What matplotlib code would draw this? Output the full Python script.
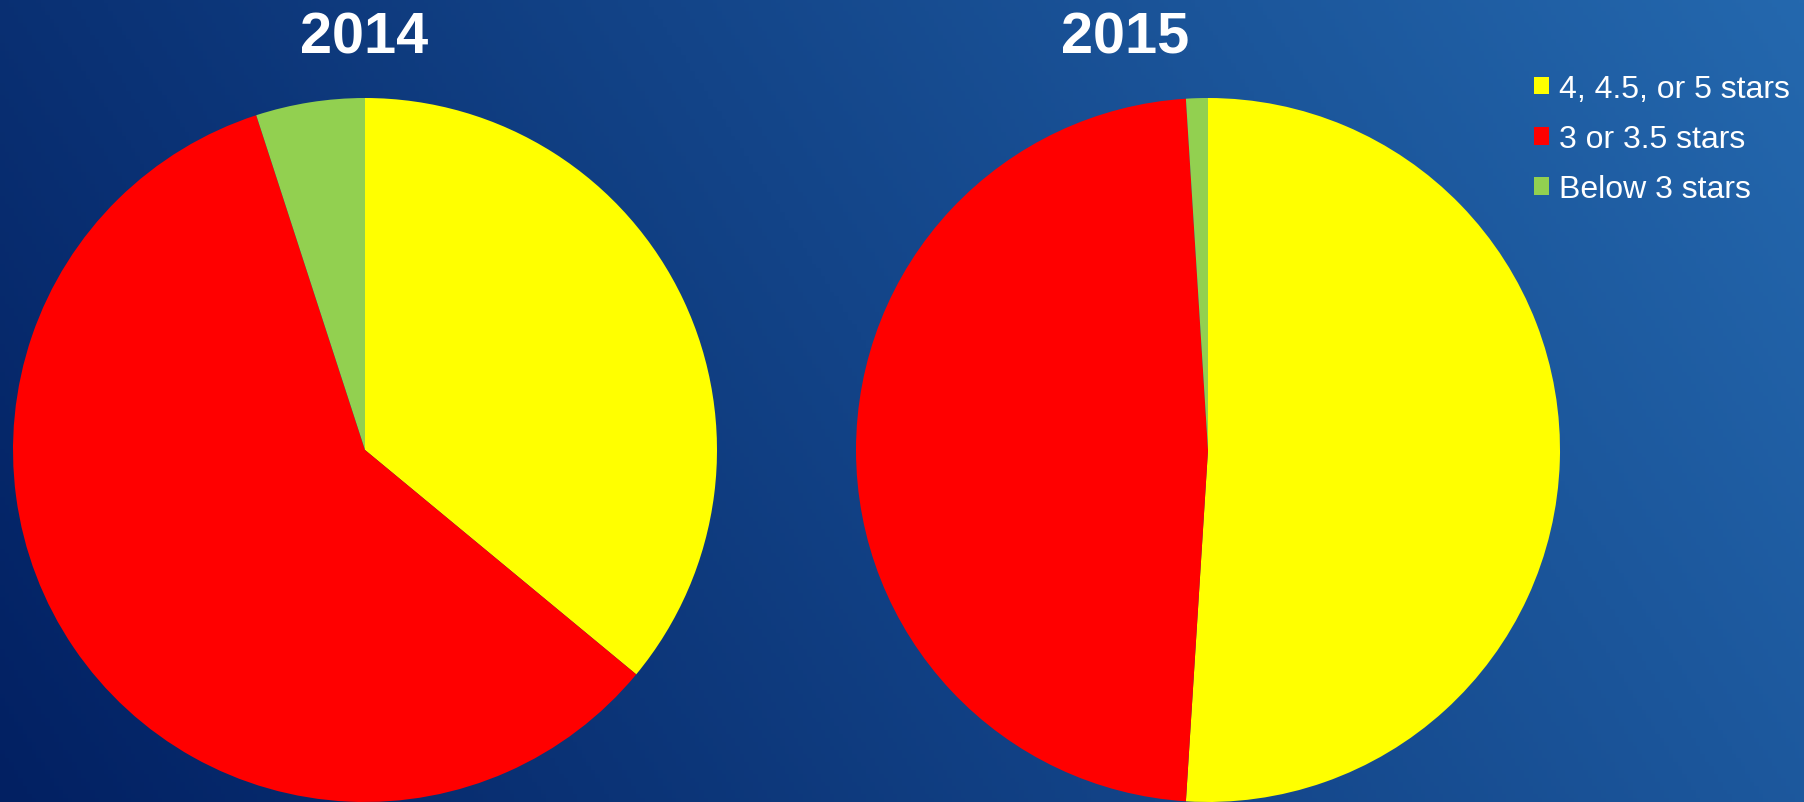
import numpy as np
import matplotlib.pyplot as plt
from matplotlib.patches import Patch

plt.rcParams['font.family'] = ['Liberation Sans', 'DejaVu Sans']

years = ["2014", "2015"]
labels = ["4, 4.5, or 5 stars", "3 or 3.5 stars", "Below 3 stars"]
shares_2014 = [36, 59, 5]
shares_2015 = [51, 48, 1]
colors = ["#ffff00", "#ff0000", "#92d050"]

W, H = 1804, 803
fig = plt.figure(figsize=(W / 100, H / 100), dpi=100)

# background gradient, dark navy bottom-left to lighter blue top-right
bg = fig.add_axes([0, 0, 1, 1], zorder=0)
u, v = np.meshgrid(np.linspace(0, 1, 400), np.linspace(0, 1, 200))
t = 0.78 * u + 0.22 * v
c0 = np.array([2, 32, 98]) / 255
c1 = np.array([36, 104, 174]) / 255
img = c0 + t[..., None] * (c1 - c0)
bg.imshow(img, origin="lower", extent=[0, 1, 0, 1], aspect="auto")
bg.axis("off")

r = 352
cy = 451
# pie centre x, title centre x (pixels)
spots = [(365, 364), (1208, 1125)]
for (cx, tx), year, vals in zip(spots, years, [shares_2014, shares_2015]):
    ax = fig.add_axes([(cx - r) / W, (H - cy - r) / H, 2 * r / W, 2 * r / H], zorder=1)
    ax.pie(vals, colors=colors, startangle=90, counterclock=False, radius=1,
           wedgeprops=dict(linewidth=0))
    ax.set_xlim(-1, 1)
    ax.set_ylim(-1, 1)
    ax.set_aspect("equal")
    ax.axis("off")
    fig.text(tx / W, 1 - 38 / H, year, ha="center", va="center",
             fontsize=41.5, fontweight="bold", color="white", zorder=2)

handles = [Patch(facecolor=c, edgecolor="none") for c in colors]
leg = fig.legend(handles, labels, loc="upper left", bbox_to_anchor=(1534 / W, 1 - 75 / H),
                 frameon=False, fontsize=23, labelcolor="white", borderpad=0, borderaxespad=0,
                 handlelength=0.47, handleheight=0.47, handletextpad=0.3, labelspacing=0.63)
leg.set_zorder(3)

fig.savefig("out.png", dpi=100)
